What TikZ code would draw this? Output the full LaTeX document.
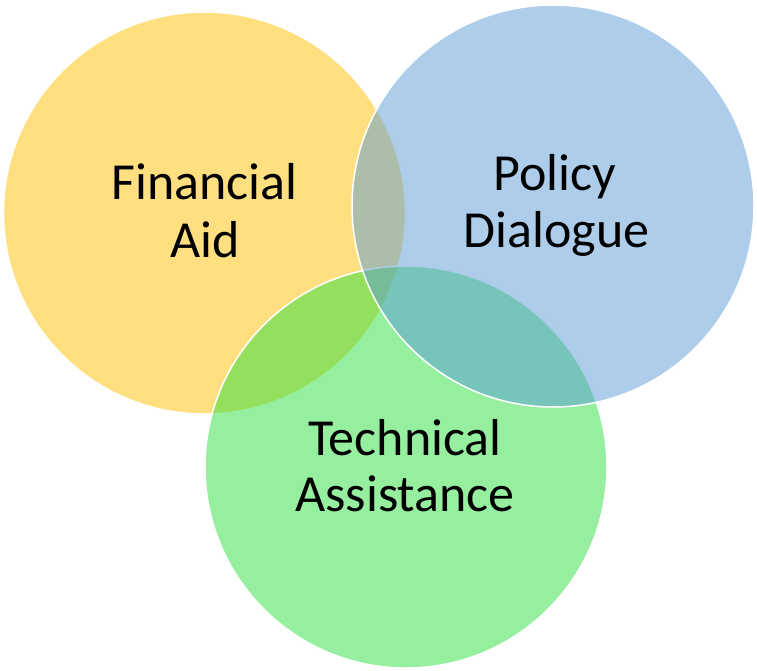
\documentclass[tikz,border=0pt]{standalone}
\usepackage{fontspec}
\setmainfont{Carlito}
\definecolor{cyellow}{RGB}{255,192,0}
\definecolor{cblue}{RGB}{91,155,213}
\definecolor{cgreen}{RGB}{44,224,64}
\begin{document}
\begin{tikzpicture}[x=1pt,y=-1pt,
 venn/.style={circle, minimum size=402pt, inner sep=0pt, fill opacity=0.5, draw=white, line width=1.5pt, draw opacity=1},
 lbl/.style={anchor=base, font=\fontsize{52}{58}\selectfont, inner sep=0pt, text=black}]
\useasboundingbox (0,0) rectangle (757,670);
\node[venn, fill=cyellow] (fa) at (204.5,213) {};
\node[venn, fill=cgreen] (ta) at (406,467) {};
\node[venn, fill=cblue] (pd) at (553,206) {};
\node[lbl] (fa1) at (204.5,199.3) {Financial};
\node[lbl] (fa2) at (205,257.3) {Aid};
\node[lbl] (pd1) at (555,190.7) {Policy};
\node[lbl] (pd2) at (556.5,247.3) {Dialogue};
\node[lbl] (ta1) at (405,455) {Technical};
\node[lbl] (ta2) at (405,511.7) {Assistance};
\end{tikzpicture}
\end{document}
